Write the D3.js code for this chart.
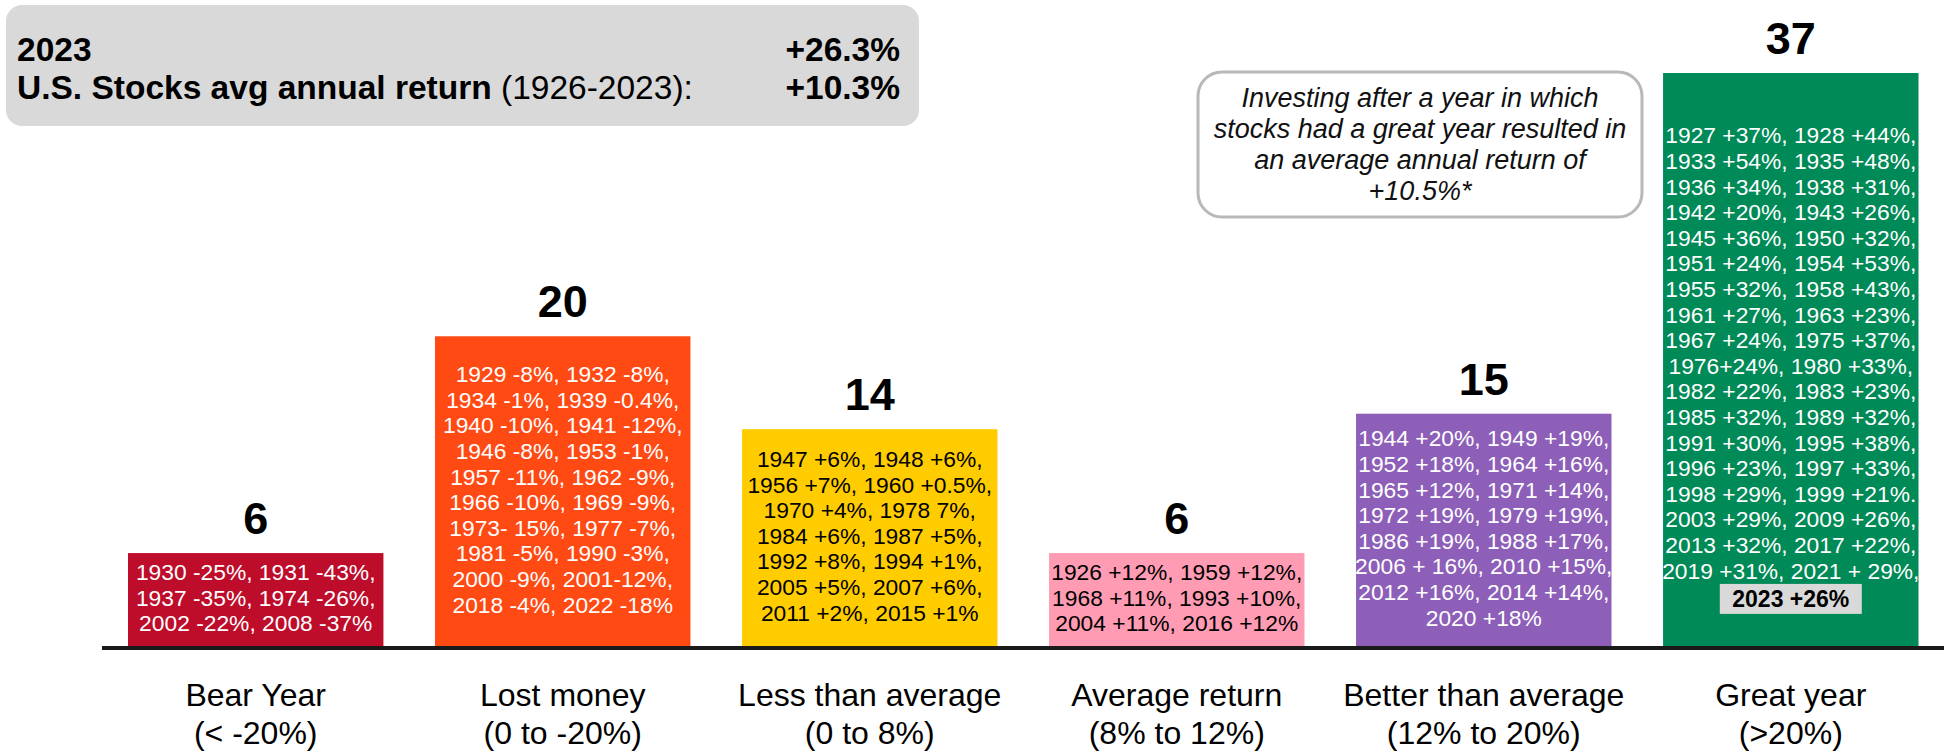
<!DOCTYPE html>
<html>
<head>
<meta charset="utf-8">
<script src="https://cdn.jsdelivr.net/npm/d3@7"></script>
<style>
  body { margin: 0; background: #fff; }
  svg { display: block; font-family: "Liberation Sans", Arial, sans-serif; }
</style>
</head>
<body>
<div id="chart"></div>
<script>
const width = 1944, height = 753;

// data
const categories = ["Bear Year", "Lost money", "Less than average", "Average return", "Better than average", "Great year"];
const ranges = ["(< -20%)", "(0 to -20%)", "(0 to 8%)", "(8% to 12%)", "(12% to 20%)", "(>20%)"];
const counts = [6, 20, 14, 6, 15, 37];
const yearLines = [
  ["1930 -25%, 1931 -43%,", "1937 -35%, 1974 -26%,", "2002 -22%, 2008 -37%"],
  ["1929 -8%, 1932 -8%,", "1934 -1%, 1939 -0.4%,", "1940 -10%, 1941 -12%,", "1946 -8%, 1953 -1%,",
   "1957 -11%, 1962 -9%,", "1966 -10%, 1969 -9%,", "1973- 15%, 1977 -7%,", "1981 -5%, 1990 -3%,",
   "2000 -9%, 2001-12%,", "2018 -4%, 2022 -18%"],
  ["1947 +6%, 1948 +6%,", "1956 +7%, 1960 +0.5%,", "1970 +4%, 1978 7%,", "1984 +6%, 1987 +5%,",
   "1992 +8%, 1994 +1%,", "2005 +5%, 2007 +6%,", "2011 +2%, 2015 +1%"],
  ["1926 +12%, 1959 +12%,", "1968 +11%, 1993 +10%,", "2004 +11%, 2016 +12%"],
  ["1944 +20%, 1949 +19%,", "1952 +18%, 1964 +16%,", "1965 +12%, 1971 +14%,", "1972 +19%, 1979 +19%,",
   "1986 +19%, 1988 +17%,", "2006 + 16%, 2010 +15%,", "2012 +16%, 2014 +14%,", "2020 +18%"],
  ["1927 +37%, 1928 +44%,", "1933 +54%,  1935 +48%,", "1936 +34%, 1938 +31%,", "1942 +20%, 1943 +26%,",
   "1945 +36%, 1950 +32%,", "1951 +24%, 1954 +53%,", "1955 +32%, 1958 +43%,", "1961 +27%, 1963 +23%,",
   "1967 +24%, 1975 +37%,", "1976+24%, 1980 +33%,", "1982 +22%, 1983 +23%,", "1985 +32%, 1989 +32%,",
   "1991 +30%, 1995 +38%,", "1996 +23%, 1997 +33%,", "1998 +29%, 1999 +21%.", "2003 +29%, 2009 +26%,",
   "2013 +32%, 2017 +22%,", "2019 +31%, 2021 + 29%,"]
];
const highlightYear = "2023 +26%";
const headerRows = [
  { bold: "2023", light: "", value: "+26.3%" },
  { bold: "U.S. Stocks avg annual return", light: " (1926-2023):", value: "+10.3%" }
];
const noteLines = ["Investing after a year in which", "stocks had a great year resulted in",
                   "an average annual return of", "+10.5%*"];

const color = d3.scaleOrdinal()
  .domain(categories)
  .range(["#be0c2b", "#ff4a14", "#ffcc00", "#ff9cb4", "#8d5fb8", "#008a57"]);
const textColor = d3.scaleOrdinal()
  .domain(categories)
  .range(["#fff", "#fff", "#000", "#000", "#fff", "#fff"]);

const svg = d3.select("#chart").append("svg")
  .attr("width", width)
  .attr("height", height);

const x = d3.scaleBand()
  .domain(categories)
  .range([128, 1918.5])
  .paddingInner(0.168)
  .paddingOuter(0);

const y = d3.scaleLinear()
  .domain([0, 37])
  .range([646, 73]);

const lh = 25.6;

// bars
const g = svg.selectAll(".bar")
  .data(categories)
  .enter().append("g")
  .attr("class", "bar");

g.append("rect")
  .attr("x", d => x(d))
  .attr("y", (d, i) => y(counts[i]))
  .attr("width", x.bandwidth())
  .attr("height", (d, i) => y(0) - y(counts[i]))
  .attr("fill", d => color(d));

// count labels
g.append("text")
  .attr("x", d => x(d) + x.bandwidth() / 2)
  .attr("y", (d, i) => y(counts[i]) - 19)
  .attr("text-anchor", "middle")
  .attr("font-size", 45)
  .attr("font-weight", "bold")
  .attr("fill", "#000")
  .text((d, i) => counts[i]);

// year lists inside bars
g.each(function(d, i) {
  const lines = yearLines[i].slice();
  const hasHi = i === categories.length - 1;
  const n = lines.length + (hasHi ? 1 : 0);
  const cy = (y(counts[i]) + y(0)) / 2 + (hasHi ? 6 : -2);
  const cx = x(d) + x.bandwidth() / 2;
  const sel = d3.select(this);
  sel.selectAll(".yr")
    .data(lines)
    .enter().append("text")
    .attr("class", "yr")
    .attr("x", cx)
    .attr("y", (t, j) => cy + (j - (n - 1) / 2) * lh)
    .attr("dy", "0.36em")
    .attr("text-anchor", "middle")
    .attr("font-size", 22.8)
    .attr("fill", textColor(d))
    .text(t => t);
  if (hasHi) {
    const yy = cy + (n - 1 - (n - 1) / 2) * lh + 3;
    sel.append("rect")
      .attr("x", cx - 71)
      .attr("y", yy - 15)
      .attr("width", 142)
      .attr("height", 30)
      .attr("fill", "#d9d9d9");
    sel.append("text")
      .attr("x", cx)
      .attr("y", yy)
      .attr("dy", "0.36em")
      .attr("text-anchor", "middle")
      .attr("font-size", 23)
      .attr("font-weight", "bold")
      .attr("fill", "#000")
      .text(highlightYear);
  }
});

// baseline
svg.append("line")
  .attr("x1", 102).attr("x2", width)
  .attr("y1", y(0) + 2).attr("y2", y(0) + 2)
  .attr("stroke", "#1a1a1a")
  .attr("stroke-width", 4);

// category labels
const xAxis = svg.append("g");
xAxis.selectAll(".cat")
  .data(categories)
  .enter().append("text")
  .attr("x", d => x(d) + x.bandwidth() / 2)
  .attr("y", 706)
  .attr("text-anchor", "middle")
  .attr("font-size", 32)
  .attr("fill", "#000")
  .text(d => d);
xAxis.selectAll(".rng")
  .data(ranges)
  .enter().append("text")
  .attr("x", (d, i) => x(categories[i]) + x.bandwidth() / 2)
  .attr("y", 744)
  .attr("text-anchor", "middle")
  .attr("font-size", 32)
  .attr("fill", "#000")
  .text(d => d);

// header box
svg.append("rect")
  .attr("x", 6).attr("y", 5)
  .attr("width", 913).attr("height", 121)
  .attr("rx", 16)
  .attr("fill", "#d9d9d9");
headerRows.forEach((r, i) => {
  const t = svg.append("text")
    .attr("x", 17)
    .attr("y", 61 + i * 38)
    .attr("font-size", 33.5)
    .attr("fill", "#000");
  t.append("tspan").attr("font-weight", "bold").text(r.bold);
  if (r.light) t.append("tspan").text(r.light);
  svg.append("text")
    .attr("x", 900)
    .attr("y", 61 + i * 38)
    .attr("text-anchor", "end")
    .attr("font-size", 33.5)
    .attr("font-weight", "bold")
    .attr("fill", "#000")
    .text(r.value);
});

// annotation box
svg.append("rect")
  .attr("x", 1198).attr("y", 72)
  .attr("width", 444).attr("height", 145)
  .attr("rx", 24)
  .attr("fill", "#fff")
  .attr("stroke", "#b8b8b8")
  .attr("stroke-width", 3);
svg.selectAll(".note")
  .data(noteLines)
  .enter().append("text")
  .attr("class", "note")
  .attr("x", 1420)
  .attr("y", (d, i) => 97 + i * 31)
  .attr("dy", "0.36em")
  .attr("text-anchor", "middle")
  .attr("font-size", 27)
  .attr("font-style", "italic")
  .attr("fill", "#111")
  .text(d => d);
</script>
</body>
</html>
